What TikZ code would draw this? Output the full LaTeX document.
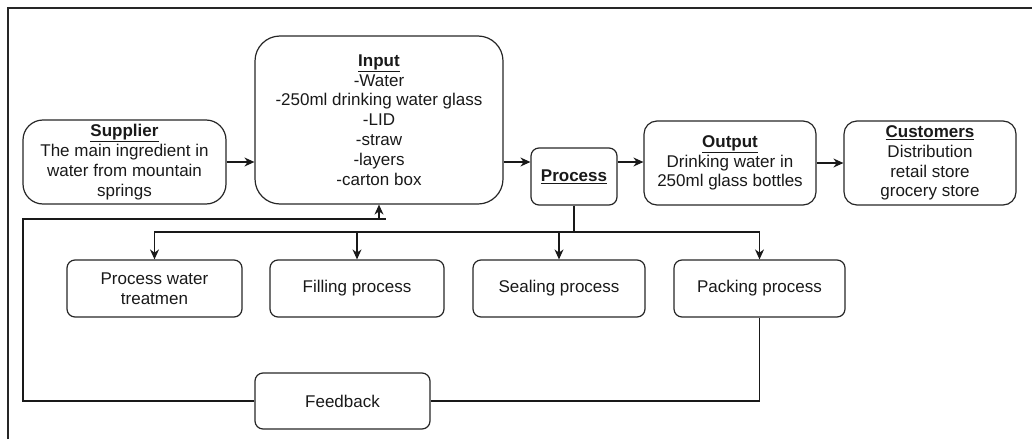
\documentclass[tikz,border=0pt]{standalone}
\usepackage{fontspec}
\setmainfont{Liberation Sans}
\usetikzlibrary{arrows.meta}
\tikzset{
  box/.style={draw=black!85, line width=1.2pt, align=center, inner sep=0pt,
    font=\fontsize{17}{19.8}\selectfont, text=black!90},
  arr/.style={draw=black!90, line width=1.2pt, -{Stealth[length=10pt,width=9pt]}},
  ln/.style={draw=black!90, line width=1.2pt},
}
\newcommand{\ttl}[1]{\underline{\textbf{#1}}}
\begin{document}
\begin{tikzpicture}[x=1pt,y=-1pt]
\useasboundingbox (0,0) rectangle (1032,439);
\draw[line width=1.8pt, black!85] (8,439) -- (8,8) -- (1032,8);

\node[box, rounded corners=20pt, minimum width=203pt, minimum height=84pt] (sup) at (124.5,162)
  {\ttl{Supplier}\\The main ingredient in\\water from mountain\\springs};
\node[box, rounded corners=25pt, minimum width=248pt, minimum height=168pt] (inp) at (379,120)
  {\ttl{Input}\\-Water\\-250ml drinking water glass\\-LID\\-straw\\-layers\\-carton box};
\node[box, rounded corners=8pt, minimum width=86pt, minimum height=57pt] (proc) at (574,176.5)
  {\ttl{Process}};
\node[box, rounded corners=13pt, minimum width=172pt, minimum height=84pt] (out) at (730,163)
  {\ttl{Output}\\Drinking water in\\250ml glass bottles};
\node[box, rounded corners=13pt, minimum width=172pt, minimum height=84pt] (cust) at (930,163)
  {\ttl{Customers}\\Distribution\\retail store\\grocery store};

\node[box, rounded corners=8pt, minimum width=175pt, minimum height=57pt] (pw) at (154.5,288.5)
  {Process water\\treatmen};
\node[box, rounded corners=8pt, minimum width=174pt, minimum height=57pt] (fill) at (357,288.5)
  {Filling process};
\node[box, rounded corners=8pt, minimum width=172pt, minimum height=57pt] (seal) at (559,288.5)
  {Sealing process};
\node[box, rounded corners=8pt, minimum width=171pt, minimum height=57pt] (pack) at (759.5,288.5)
  {Packing process};
\node[box, rounded corners=8pt, minimum width=175pt, minimum height=56pt] (fb) at (342.5,401)
  {Feedback};

% main flow
\draw[arr] (sup.east) -- (sup.east -| inp.west);
\draw[arr] (sup.east -| inp.east) -- (sup.east -| proc.west);
\draw[arr] (sup.east -| proc.east) -- (sup.east -| out.west);
\draw[arr] (out.east) -- (cust.west);

% process branches
\coordinate (bus) at (574,232);
\draw[ln] (proc.south) -- (bus);
\draw[arr] (bus) -| (pw.north);
\draw[arr] (bus) -| (fill.north);
\draw[arr] (bus) -| (seal.north);
\draw[arr] (bus) -| (pack.north);

% feedback loop
\coordinate (fbl) at (23,219);
\coordinate (fbj) at (379,219);
\coordinate (fbe) at (386,219);
\draw[ln] (pack.south) |- (fb.east);
\draw[ln] (fb.west) -| (fbl) -- (fbe);
\draw[arr] (fbj) -- (inp.south);
\end{tikzpicture}
\end{document}
